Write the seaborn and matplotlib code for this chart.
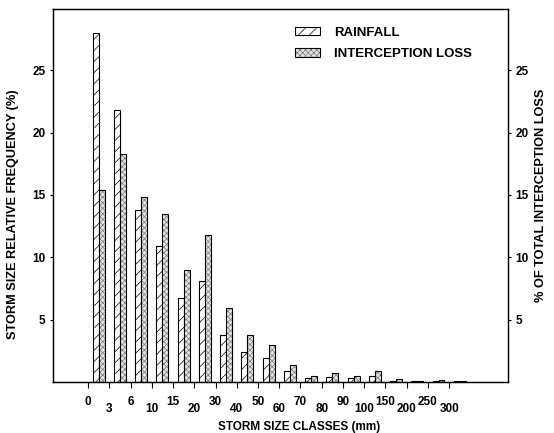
import matplotlib
matplotlib.use("Agg")
import matplotlib.pyplot as plt
from matplotlib.patches import Patch
import pandas as pd
import seaborn as sns

# Storm size classes (mm) and class boundary labels
classes = ["0-3", "3-6", "6-10", "10-15", "15-20", "20-30", "30-40", "40-50",
           "50-60", "60-70", "70-80", "80-90", "90-100", "100-150", "150-200",
           "200-250", "250-300", ">300"]
boundary_labels = ["0", "3", "6", "10", "15", "20", "30", "40", "50", "60",
                   "70", "80", "90", "100", "150", "200", "250", "300"]

# Relative frequency of rainfall (%) and share of total interception loss (%)
rainfall = [28.0, 21.8, 13.8, 10.9, 6.7, 8.1, 3.8, 2.4, 1.9, 0.9,
            0.3, 0.4, 0.3, 0.5, 0.1, 0.05, 0.1, 0.1]
interception = [15.4, 18.3, 14.8, 13.5, 9.0, 11.8, 5.9, 3.8, 3.0, 1.4,
                0.5, 0.7, 0.5, 0.9, 0.25, 0.05, 0.15, 0.1]

series_names = ["RAINFALL", "INTERCEPTION LOSS"]
y_ticks = [5, 10, 15, 20, 25]

df = pd.DataFrame({
    "cls": classes * 2,
    "value": rainfall + interception,
    "series": [series_names[0]] * len(classes) + [series_names[1]] * len(classes),
})

sns.set_theme(style="ticks")
plt.rcParams["font.family"] = ["Liberation Sans", "DejaVu Sans"]
plt.rcParams["font.weight"] = "bold"
plt.rcParams["hatch.linewidth"] = 0.5
for key in ["text.color", "axes.labelcolor", "xtick.color", "ytick.color",
            "axes.edgecolor"]:
    plt.rcParams[key] = "black"

FS_TICK = 8.5
FS_XLABEL = 8.5
FS_YLABEL = 9.2
FS_LEGEND = 9.5
RAIN_HATCH = "///"
STIPPLE_FACE = "#e4e4e4"
STIPPLE_DOTS = (0.48, 0.48, 0.48, 1.0)


def stipple(patch):
    """Grey fine crosshatch that reads as a dotted screen, black outline kept."""
    patch.set_hatch("xxxxxx")
    if hasattr(patch, "set_hatchcolor"):
        patch.set_hatchcolor(STIPPLE_DOTS)
    else:
        patch._hatch_color = STIPPLE_DOTS


fig = plt.figure(figsize=(5.54, 4.33), dpi=100)
ax = fig.add_axes([53 / 554, 51 / 433, 455 / 554, 373 / 433])

sns.barplot(data=df, x="cls", y="value", hue="series", order=classes,
            hue_order=series_names, width=0.56, palette=["white", STIPPLE_FACE],
            edgecolor="black", linewidth=0.8, saturation=1, legend=False, ax=ax)

for bar in ax.containers[0]:
    bar.set_hatch(RAIN_HATCH)
for bar in ax.containers[1]:
    stipple(bar)

ax.set_xlim(-2.15, 19.27)
ax.set_ylim(0, 29.9)

# Class boundaries sit between adjacent bar groups, labels staggered
ax.set_xticks([i - 0.5 for i in range(len(boundary_labels))])
ax.set_xticklabels(boundary_labels, fontsize=FS_TICK, fontweight="bold")
for i, tick in enumerate(ax.xaxis.get_major_ticks()):
    tick.set_pad(6.0 if i % 2 == 0 else 11.0)
ax.tick_params(axis="x", length=4.3, width=0.8)

ax.set_yticks(y_ticks)
ax.set_yticklabels([str(v) for v in y_ticks], fontsize=FS_TICK, fontweight="bold")
ax.tick_params(axis="y", length=2.5, width=0.8, pad=3)

for s in ax.spines.values():
    s.set_linewidth(0.9)

ax.set_xlabel("STORM SIZE CLASSES (mm)", fontsize=FS_XLABEL, fontweight="bold")
ax.xaxis.set_label_coords(0.54, -0.105)
ax.set_ylabel("STORM SIZE RELATIVE FREQUENCY (%)", fontsize=FS_YLABEL,
              fontweight="bold")
ax.yaxis.set_label_coords(-0.075, 0.45)

ax2 = ax.twinx()
ax2.set_ylim(ax.get_ylim())
ax2.set_yticks(y_ticks)
ax2.set_yticklabels([str(v) for v in y_ticks], fontsize=FS_TICK, fontweight="bold")
ax2.tick_params(axis="y", length=2.5, width=0.8, pad=3)
ax2.set_ylabel("% OF TOTAL INTERCEPTION LOSS", fontsize=FS_YLABEL,
               fontweight="bold")
ax2.yaxis.set_label_coords(1.06, 0.5)
for s in ax2.spines.values():
    s.set_linewidth(0.9)

h_rain = Patch(facecolor="white", edgecolor="black", hatch=RAIN_HATCH,
               linewidth=0.8)
h_loss = Patch(facecolor=STIPPLE_FACE, edgecolor="black", linewidth=0.8)
stipple(h_loss)
ax.legend([h_rain, h_loss], series_names, loc="upper left",
          bbox_to_anchor=(0.532, 0.952), frameon=False, borderpad=0,
          borderaxespad=0, handlelength=1.9, handleheight=0.6,
          handletextpad=1.05, labelspacing=0.7,
          prop={"size": FS_LEGEND, "weight": "bold"})

fig.savefig("out.png", dpi=100)
